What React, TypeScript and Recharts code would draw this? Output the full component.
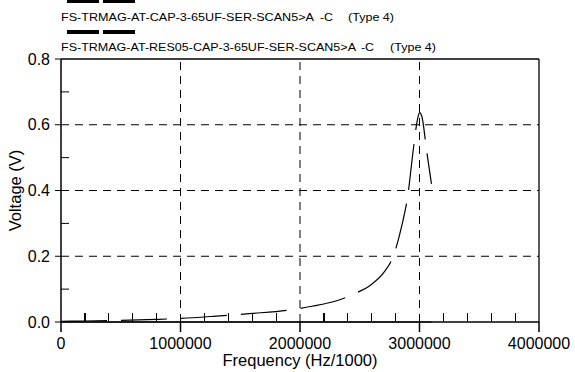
import React from 'react';
import { LineChart, Line, XAxis, YAxis, ReferenceLine } from 'recharts';

// frequency in Hz/1000
const freq = [0, 200000, 500000, 800000, 1000000, 1300000, 1600000, 1900000, 2100000, 2300000, 2450000, 2600000, 2700000, 2780000, 2850000, 2900000, 2950000, 2980000, 3000000, 3020000, 3060000, 3100000];
const voltageCap = [0.002, 0.003, 0.005, 0.008, 0.011, 0.018, 0.026, 0.036, 0.048, 0.064, 0.085, 0.115, 0.15, 0.2, 0.29, 0.38, 0.53, 0.61, 0.637, 0.625, 0.52, 0.42];
// second trace sits on the zero line
const voltageRes = [0, 0, 0, 0, 0, 0, 0, 0, 0, 0, 0, 0, 0, 0, 0, 0, 0, 0, 0, 0, 0, 0];

const xMajor = [0, 1000000, 2000000, 3000000, 4000000];
const xMinor = [200000, 400000, 600000, 800000, 1200000, 1400000, 1600000, 1800000, 2200000, 2400000, 2600000, 2800000, 3200000, 3400000, 3600000, 3800000];
const xGrid = [1000000, 2000000, 3000000];
const yMajor = [0, 0.2, 0.4, 0.6, 0.8];
const yAllTicks = [0, 0.1, 0.2, 0.3, 0.4, 0.5, 0.6, 0.7, 0.8];
const yGrid = [0.2, 0.4, 0.6];
const X_MINOR_LEN = 0.0274; // minor x tick height, in volts

const seriesNames = ['FS-TRMAG-AT-CAP-3-65UF-SER-SCAN5>A', 'FS-TRMAG-AT-RES05-CAP-3-65UF-SER-SCAN5>A'];
const seriesSuffix = '-C';
const seriesType = '(Type 4)';

const data = freq.map((f, i) => ({ f, cap: voltageCap[i], res: voltageRes[i] }));

const FONT = 'Liberation Sans, Arial, sans-serif';
const Y_TICK = 6, Y_MINOR = 8, Y_MARGIN = 5;

// legend rows: sample line above the caption, caption squeezed like the original plot
const legendRows = [
  { name: seriesNames[0], lineY: 1, baseY: 21, nameEnd: 314, sufX: 320, typeX: 348 },
  { name: seriesNames[1], lineY: 32, baseY: 51, nameEnd: 356, sufX: 361, typeX: 390 },
];

const Legend2 = () => (
  <svg width={575} height={60} style={{ position: 'absolute', left: 0, top: 0, pointerEvents: 'none' }}>
    {legendRows.map((r) => (
      <g key={r.name} style={{ fontFamily: FONT, fontSize: 11 }} fill="#000">
        <line x1={67} x2={135} y1={r.lineY} y2={r.lineY} stroke="#000" strokeWidth={4} strokeDasharray="32 4" />
        <text x={61} y={r.baseY} textLength={r.nameEnd - 61} lengthAdjust="spacingAndGlyphs">{r.name}</text>
        <text x={r.sufX} y={r.baseY} textLength={13} lengthAdjust="spacingAndGlyphs">{seriesSuffix}</text>
        <text x={r.typeX} y={r.baseY} textLength={46} lengthAdjust="spacingAndGlyphs">{seriesType}</text>
      </g>
    ))}
  </svg>
);

// major y ticks point outward with a label, minor ones point into the plot
const YTick = (props: any) => {
  const { x, y, payload } = props;
  const axisX = x + Y_TICK + Y_MARGIN;
  const major = yMajor.some((v) => Math.abs(v - payload.value) < 1e-9);
  if (!major) return <line x1={axisX} x2={axisX + Y_MINOR} y1={y} y2={y} stroke="#000" strokeWidth={1} />;
  return (
    <g>
      <line x1={axisX - Y_TICK} x2={axisX} y1={y} y2={y} stroke="#000" strokeWidth={1} />
      <text x={x} y={y} dy="0.355em" textAnchor="end" fill="#000" style={{ fontFamily: FONT, fontSize: 16 }}>{payload.value.toFixed(1)}</text>
    </g>
  );
};

export default function App() {
  return (
    <div style={{ position: 'absolute', left: 0, top: 0, width: 575, height: 372, background: '#fff', fontFamily: FONT }}>
      <LineChart width={575} height={372} data={data} margin={{ top: 59, right: 36, bottom: 0, left: 0 }}>
        {xGrid.map((v) => (
          <ReferenceLine key={'gx' + v} x={v} stroke="#000" strokeWidth={1} strokeDasharray="8 6" />
        ))}
        {yGrid.map((v) => (
          <ReferenceLine key={'gy' + v} y={v} stroke="#000" strokeWidth={1} strokeDasharray="8 6" />
        ))}
        {xMinor.map((v) => (
          <ReferenceLine
            key={'mx' + v}
            segment={[{ x: v, y: 0 }, { x: v, y: X_MINOR_LEN }]}
            ifOverflow="visible"
            stroke="#000"
            strokeWidth={1.2}
            shapeRendering="crispEdges"
          />
        ))}
        <XAxis
          dataKey="f"
          type="number"
          domain={[0, 4000000]}
          ticks={xMajor}
          interval={0}
          height={50}
          tick={{ fill: '#000', fontSize: 16, fontFamily: FONT }}
          tickSize={10}
          tickMargin={6}
          stroke="#000"
          strokeWidth={1.5}
          tickFormatter={(v: number) => String(v)}
          label={{ value: 'Frequency (Hz/1000)', position: 'insideBottom', offset: 6, fill: '#000', fontSize: 16.5, fontFamily: FONT }}
        />
        <YAxis
          type="number"
          domain={[0, 0.8]}
          ticks={yAllTicks}
          interval={0}
          width={61}
          tick={<YTick />}
          tickLine={false}
          tickSize={Y_TICK}
          tickMargin={Y_MARGIN}
          stroke="#000"
          strokeWidth={1.5}
          label={{ value: 'Voltage (V)', angle: -90, position: 'insideLeft', offset: 15, fill: '#000', fontSize: 16.5, fontFamily: FONT, style: { textAnchor: 'middle' } }}
        />
        <ReferenceLine y={0.8} stroke="#000" strokeWidth={1.3} />
        <ReferenceLine x={4000000} stroke="#000" strokeWidth={1.3} />
        <Line dataKey="res" type="monotone" stroke="#000" strokeWidth={1} dot={false} isAnimationActive={false} />
        <Line dataKey="cap" type="monotone" stroke="#000" strokeWidth={1.2} strokeDasharray="46 14" dot={false} isAnimationActive={false} />
      </LineChart>
      <Legend2 />
    </div>
  );
}
